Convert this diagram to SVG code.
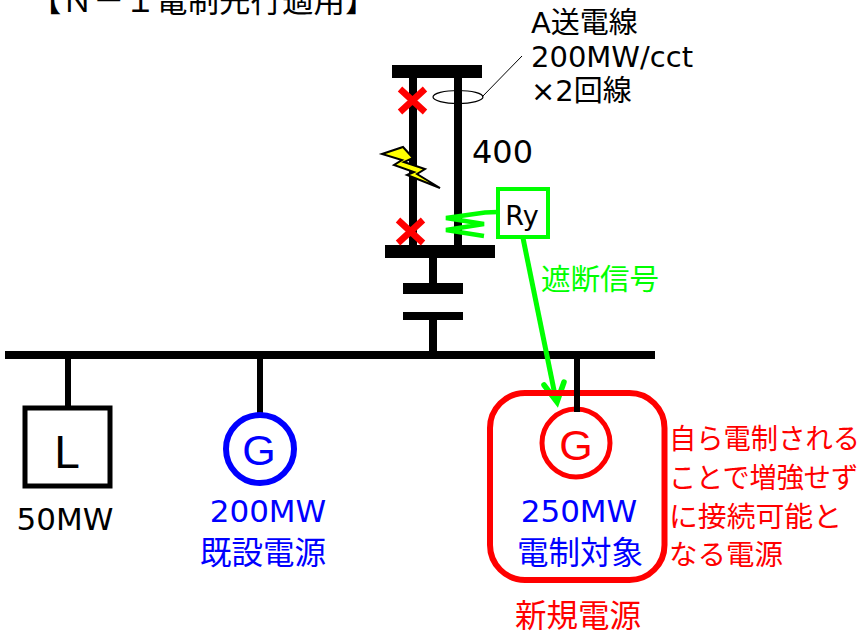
<svg xmlns="http://www.w3.org/2000/svg" width="861" height="633" viewBox="0 0 861 633">
<style>
text{font-family:"DejaVu Sans","Noto Sans CJK JP",sans-serif;font-size:31px}
.k{fill:#000}.b{fill:#00f}.r{fill:#f00}
.m{text-anchor:middle}
.bl{stroke:#000;fill:none}
.n{font-size:28.5px;fill:#f00}
.big{font-family:"Liberation Sans",sans-serif;font-size:43px}
</style>
<rect width="861" height="633" fill="#fff"/>
<text id="title" x="30" y="12" class="k" style="font-size:31.5px">【Ｎ－１電制先行適用】</text>
<g id="connectors">
<g class="bl">
<path d="M413 76V246" stroke-width="8"/>
<path d="M458 76V246" stroke-width="8"/>
<path d="M433 256V290" stroke-width="8"/>
<path d="M433 316V354" stroke-width="8"/>
<path d="M68 354V408" stroke-width="6"/>
<path d="M260 354V414" stroke-width="6"/>
<path d="M482 97L522 56" stroke-width="1"/>
</g>
<rect x="392" y="65" width="90" height="13" fill="#000"/>
<rect x="385" y="245" width="110" height="13" fill="#000"/>
<rect x="403" y="283" width="60" height="11" fill="#000"/>
<rect x="403" y="312" width="60" height="8" fill="#000"/>
<rect x="5" y="351" width="650" height="8" fill="#000"/>
<ellipse cx="458" cy="97" rx="25" ry="6.5" fill="none" stroke="#000" stroke-width="1.2"/>
<path d="M498 212L485 212.500L446 218L484 224L446 230L484 236" fill="none" stroke="#0f0" stroke-width="4.500"/>
<path d="M523 238L556 400" stroke="#0f0" stroke-width="5" fill="none"/>
<path d="M544 385L557 402L564 382" stroke="#0f0" stroke-width="5.500" fill="none" stroke-linecap="round"/>
</g>
<g id="breaker-top"><path d="M400 89L425 112M425 89L400 112" stroke="#f00" stroke-width="6.500" fill="none"/></g>
<g id="breaker-bottom"><path d="M398 220L423 243M423 220L398 243" stroke="#f00" stroke-width="6.500" fill="none"/></g>
<g id="lightning"><path d="M382 154L403 147L413 158L404 162L425 169L417 174L440 188L407 175L414 172L394 165L402 160Z" fill="#ff0" stroke="#000" stroke-width="2"/></g>
<g id="label-line"><text x="531" y="33" class="k" style="font-size:29px">A送電線</text><text x="531" y="67" class="k" style="font-size:29px">200MW/cct</text><text x="531" y="101" class="k" style="font-size:29px">×2回線</text></g>
<g id="label-400"><text x="472" y="163" class="k" style="font-size:32px">400</text></g>
<g id="ry"><rect x="498" y="189" width="50" height="48" fill="#fff" stroke="#0f0" stroke-width="4"/><text x="522" y="225" class="k m" style="font-size:27px">Ry</text></g>
<g id="signal"><text x="541" y="290" style="font-size:29px;fill:#0f0" textLength="118" lengthAdjust="spacingAndGlyphs">遮断信号</text></g>
<g id="load"><rect x="25" y="408" width="85" height="78" fill="#fff" stroke="#000" stroke-width="5"/><text x="67" y="468" class="k m big" style="font-size:46px">L</text><text x="65" y="530" class="k m">50MW</text></g>
<g id="gen-existing"><circle cx="260" cy="449" r="34" fill="#fff" stroke="#00f" stroke-width="6"/><text x="259" y="465" class="b m big">G</text><text x="268" y="522" class="b m">200MW</text><text x="263" y="564" class="b m" style="font-size:31.500px">既設電源</text></g>
<g id="gen-new"><rect x="490" y="393" width="174.500" height="187" rx="35" fill="none" stroke="#f00" stroke-width="6"/><circle cx="576" cy="443" r="34" fill="#fff" stroke="#f00" stroke-width="5"/><path d="M577 354V412" stroke="#000" stroke-width="6"/><text x="576" y="460" class="r m big">G</text><text x="579" y="522" class="b m">250MW</text><text x="580" y="564" class="b m" style="font-size:31.500px">電制対象</text><text x="578" y="627" class="r m" style="font-size:31.500px">新規電源</text></g>
<g id="note"><text x="669" y="449" class="n" textLength="191" lengthAdjust="spacingAndGlyphs">自ら電制される</text><text x="669" y="488" class="n" textLength="189" lengthAdjust="spacingAndGlyphs">ことで増強せず</text><text x="669" y="527" class="n" textLength="173" lengthAdjust="spacingAndGlyphs">に接続可能と</text><text x="669" y="565" class="n" textLength="114" lengthAdjust="spacingAndGlyphs">なる電源</text></g>
</svg>
